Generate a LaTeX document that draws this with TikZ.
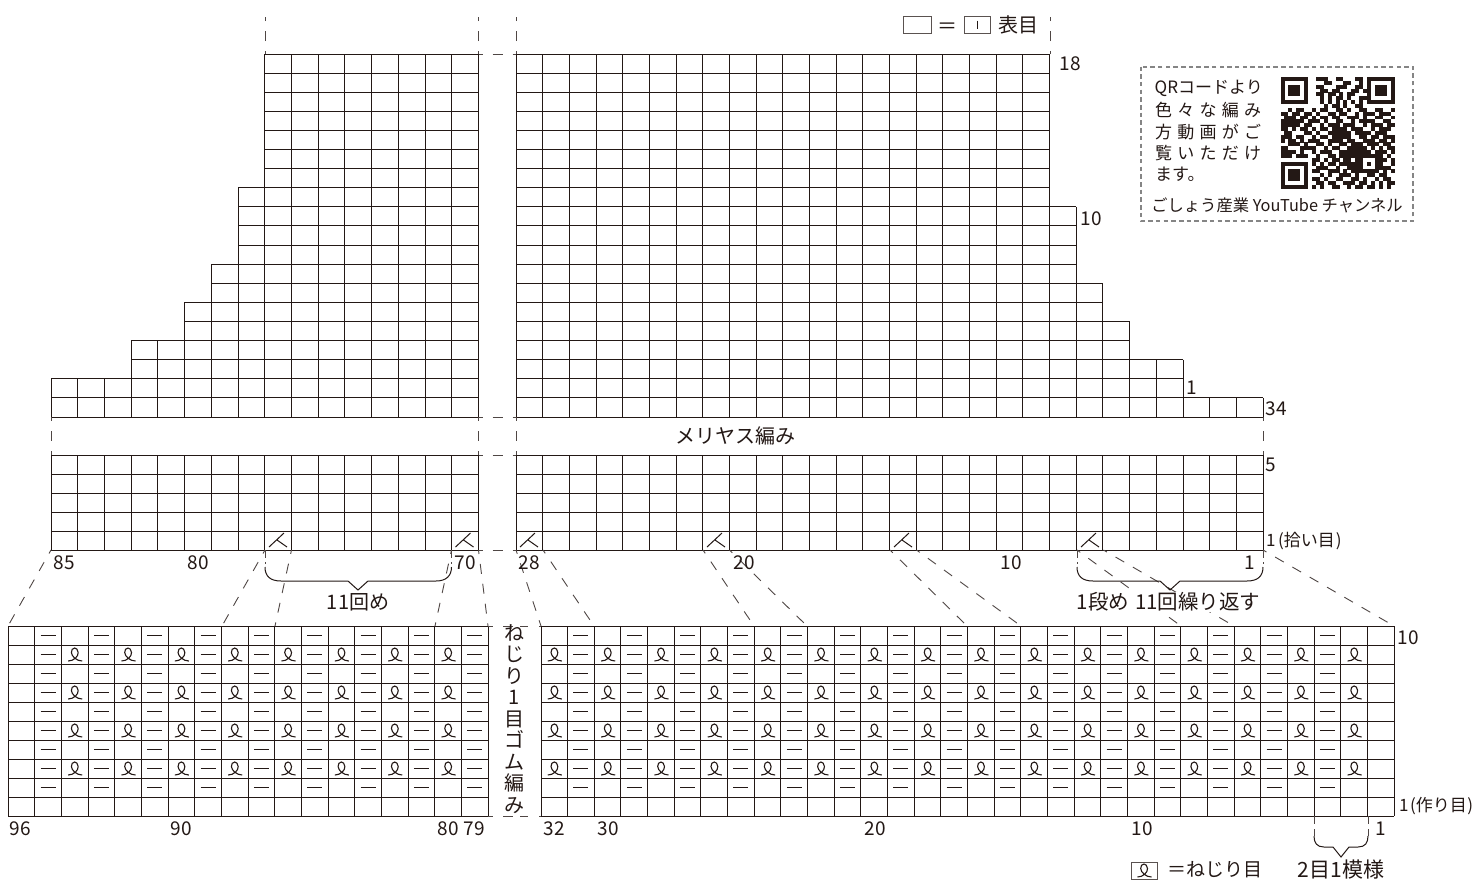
\documentclass[tikz,border=0pt]{standalone}
\usepackage{fontspec}
\setmainfont{Noto Sans CJK JP}
\definecolor{ink}{HTML}{231815}
\definecolor{boxgrey}{HTML}{858585}
\newcount\qrrow
\newcount\qrcol
\newcommand\qrline[1]{\qrcol=0 \qrscan#1\relax \advance\qrrow by 1 }
\def\qrscan#1{\ifx#1\relax\else\if#11\fill[ink] ({1280.5+3.93*\the\qrcol},{77+3.85*\the\qrrow}) rectangle +(4.03,3.95);\fi\advance\qrcol by 1 \expandafter\qrscan\fi}
% one row of grid cells: x0, dx, first col, last col, y top, y bottom
\newcommand\gridrow[6]{%
  \draw[gridline] ({#1+#2*#3},#5) -- ({#1+#2*#4},#5);
  \draw[gridline] ({#1+#2*#3},#6) -- ({#1+#2*#4},#6);
  \foreach \cc in {#3,...,#4}{\draw[gridline] ({#1+#2*\cc},#5) -- ({#1+#2*\cc},#6);}}
\newcommand\fs[1]{\fontsize{#1}{#1}\selectfont}
\tikzset{
  gridline/.style={line width=1pt,color=ink,line cap=square},
  conn/.style={line width=0.9pt,color=ink!80,dash pattern=on 10pt off 10pt,dash phase=6pt},
  brace/.style={line width=1pt,color=ink},
  dashmark/.style={line width=1pt,color=ink},
  lbl/.style={text=ink,inner sep=0pt,font=\fs{19}},
  big/.style={text=ink,inner sep=0pt,font=\fs{20}},
  small/.style={text=ink,inner sep=0pt,font=\fs{17}},
  twistsym/.pic={\draw[line width=1.1pt,color=ink] (-6.5,6.5) .. controls (-1,6.5) and (3.8,2) .. (3.5,-2) .. controls (3.3,-5) and (1.5,-6.5) .. (0,-6.5) .. controls (-2,-6.5) and (-3.5,-4.5) .. (-3.3,-2) .. controls (-3,2) and (2,6.5) .. (7.5,6.5);},
  decsym/.pic={\draw[line width=1pt,color=ink] (4,-3) -- (19,-17) (12,-10) -- (22,-3);}
}
\begin{document}
\begin{tikzpicture}[x=1pt,y=-1pt]
\useasboundingbox (0,0) rectangle (1475,879);
\fill[white] (0,0) rectangle (1475,879);
% upper block, right part: row index/ last col
\foreach \k/\nn in {0/28,1/25,2/25,3/23,4/23,5/22,6/22,7/21,8/21,9/21,10/21,11/20,12/20,13/20,14/20,15/20,16/20,17/20,18/20}{
  \pgfmathsetmacro\yb{417-19.105*\k}\pgfmathsetmacro\yt{417-19.105*(\k+1)}
  \gridrow{516}{26.68}{0}{\nn}{\yt}{\yb}}
% upper block, left part: row index/ first col
\foreach \k/\nn in {0/0,1/0,2/3,3/3,4/5,5/5,6/6,7/6,8/7,9/7,10/7,11/7,12/8,13/8,14/8,15/8,16/8,17/8,18/8}{
  \pgfmathsetmacro\yb{417-19.105*\k}\pgfmathsetmacro\yt{417-19.105*(\k+1)}
  \gridrow{51}{26.72}{\nn}{16}{\yt}{\yb}}
% lower block
\foreach \k in {0,...,4}{
  \pgfmathsetmacro\yb{550-19*\k}\pgfmathsetmacro\yt{550-19*(\k+1)}
  \gridrow{516}{26.68}{0}{28}{\yt}{\yb}
  \gridrow{51}{26.72}{0}{16}{\yt}{\yb}}
% rib block
\foreach \k in {0,...,9}{
  \pgfmathsetmacro\yb{816-19*\k}\pgfmathsetmacro\yt{816-19*(\k+1)}
  \gridrow{8}{26.67}{0}{18}{\yt}{\yb}
  \gridrow{541}{26.66}{0}{32}{\yt}{\yb}}
% rib symbols
\foreach \r in {2,...,10}{
  \pgfmathsetmacro\yc{816-19*(\r-0.5)}
  \foreach \n in {1,3,...,17}{\draw[dashmark] ({8+26.67*(\n+0.5)-7.5},\yc) -- +(15,0);}
  \foreach \n in {1,3,...,29}{\draw[dashmark] ({541+26.66*(\n+0.5)-7.5},\yc) -- +(15,0);}}
\foreach \r in {3,5,7,9}{
  \pgfmathsetmacro\yc{816-19*(\r-0.5)}
  \foreach \n in {2,4,...,16}{\pic at ({8+26.67*(\n+0.5)},\yc) {twistsym};}
  \foreach \n in {0,2,...,30}{\pic at ({541+26.66*(\n+0.5)},\yc) {twistsym};}}
% decrease marks
\foreach \xx in {265,451.5,516,703,890,1077}{\pic at (\xx,550) {decsym};}
% dashed continuation lines
\foreach \xx/\nm in {265/a,478.5/b,516/c,1050/d}{
  \coordinate (top\nm) at (\xx,17); \coordinate (grid\nm) at (\xx,54);
  \draw[conn,dash phase=7pt] (grid\nm) -- (top\nm);}
\foreach \xx/\nm in {51/a,478.5/b,516/c,1263/d}{
  \coordinate (mida\nm) at (\xx,417); \coordinate (midb\nm) at (\xx,455);
  \draw[conn] (mida\nm) -- (midb\nm);}
\foreach \yy/\nm in {54/a,417/b,455/c,550/d}{
  \coordinate (gapl\nm) at (478.5,\yy); \coordinate (gapr\nm) at (516,\yy);
  \draw[conn] (gapl\nm) -- (gapr\nm);}
\foreach \yy/\nm in {626/a,816/b}{
  \coordinate (ribl\nm) at (488,\yy); \coordinate (ribr\nm) at (541,\yy);
  \draw[line width=0.9pt,color=ink!80,dash pattern=on 5pt off 10pt on 10pt off 7pt on 8pt off 11pt on 3pt] (ribl\nm) -- (ribr\nm);}
% connectors to rib chart
\foreach \a/\b [count=\i] in {51/8,265/222,291.5/275,451.5/435,478.5/488,516/541,543/594,703/754,729.5/807,890/967,916.5/1021,1077/1181,1103.5/1234,1263/1394}{
  \coordinate (up\i) at (\a,550); \coordinate (dn\i) at (\b,626);
  \draw[conn] (up\i) -- (dn\i);}
% braces
\coordinate (bl1) at (265,550); \coordinate (br1) at (451.5,550);
\draw[conn,dash pattern=on 2pt off 4pt on 8pt off 4pt] (bl1) -- (265,567);
\draw[conn,dash pattern=on 2pt off 4pt on 8pt off 4pt] (br1) -- (451.5,567);
\draw[brace] (265,567) .. controls (265,576) and (270,581) .. (281,581) -- (348,581) -- (358,590) -- (368,581) -- (436,581) .. controls (446,581) and (451.5,576) .. (451.5,567);
\coordinate (bl2) at (1077,550); \coordinate (br2) at (1263,550);
\draw[conn,dash pattern=on 2pt off 4pt on 8pt off 4pt] (bl2) -- (1077,567);
\draw[conn,dash pattern=on 2pt off 4pt on 8pt off 4pt] (br2) -- (1263,567);
\draw[brace] (1077,567) .. controls (1077,576) and (1082,581) .. (1093,581) -- (1160,581) -- (1170,590) -- (1180,581) -- (1247,581) .. controls (1258,581) and (1263,576) .. (1263,567);
\coordinate (bl3) at (1314,816); \coordinate (br3) at (1368,816);
\draw[conn,dash pattern=on 2pt off 4pt on 8pt off 5pt on 8pt] (bl3) -- (1314,836);
\draw[conn,dash pattern=on 2pt off 4pt on 8pt off 5pt on 8pt] (br3) -- (1368,836);
\draw[brace] (1314,836) .. controls (1314,843) and (1317,847) .. (1324,847) -- (1333,847) -- (1341,857) -- (1349,847) -- (1358,847) .. controls (1365,847) and (1368,843) .. (1368,836);
% legend
\node[draw=ink!75,line width=0.9pt,minimum width=28pt,minimum height=17pt,inner sep=0pt] (knit) at (917,24.5) {};
\node[big] (eq1) at (947,28) {＝};
\node[draw=ink!75,line width=0.9pt,minimum width=26pt,minimum height=17pt,inner sep=0pt] (knitsym) at (977,24.5) {};
\draw[line width=0.9pt,color=ink] (knitsym.center) +(0,-4) -- +(0,4);
\node[big] (omote) at (1018,24.5) {表目};
\node[draw=ink!75,line width=0.9pt,minimum width=26pt,minimum height=17pt,inner sep=0pt] (twistbox) at (1144,870.5) {};
\pic at (1144,870.5) {twistsym};
\node[big,font=\fs{19}] (nejiri) at (1215,870) {＝ねじり目};
\node[big,font=\fs{21}] (moyo) at (1341,870) {2目1模様};
% QR box
\draw[color=boxgrey,line width=2pt,dash pattern=on 4.5pt off 3.2pt] (1141,66.5) rectangle (1413,221);
\qrrow=0
\qrline{11111110011100110001101111111}
\qrline{10000010000110001100101000001}
\qrline{10111010011000111001101011101}
\qrline{10111010001101100011011011101}
\qrline{10111010011011010110001011101}
\qrline{10000010001010110100111000001}
\qrline{11111110001010101010101111111}
\qrline{00000000000101101001100000000}
\qrline{00101100101100110100110011001}
\qrline{11011011010011011001011101110}
\qrline{01110110101101100111010011001}
\qrline{11111101110100110010111100110}
\qrline{11111011001011101110010111011}
\qrline{11010110101101111011100101110}
\qrline{01100011010011111101111011100}
\qrline{11101100101101111100110110111}
\qrline{10110101110011110110011101101}
\qrline{00111010011010011011101110110}
\qrline{11000111100101100111110101011}
\qrline{11110100101110011111111011101}
\qrline{11101110010011011111111111010}
\qrline{00000000110101101101100011101}
\qrline{11111110101011011111101011001}
\qrline{10000010011100100111100011110}
\qrline{10111010110011101011111110101}
\qrline{10111010001010011101001101100}
\qrline{10111010110100110011010010110}
\qrline{10000010011011001110110101011}
\qrline{11111110101001100101101101010}
\node[small,anchor=west] (qr1) at (1154.5,88) {QRコードより};
\node[small,anchor=west] (qr2) at (1155,110) {\makebox[106pt][s]{色\hfil 々\hfil な\hfil 編\hfil み}};
\node[small,anchor=west] (qr3) at (1155,132) {\makebox[106pt][s]{方\hfil 動\hfil 画\hfil が\hfil ご}};
\node[small,anchor=west] (qr4) at (1155,153) {\makebox[106pt][s]{覧\hfil い\hfil た\hfil だ\hfil け}};
\node[small,anchor=west] (qr5) at (1155,174) {ます。};
\node[small,font=\fs{16.3}] (qr6) at (1277,205) {ごしょう産業 YouTube チャンネル};
% row labels
\node[lbl] (r18) at (1070,64) {18};
\node[lbl] (r10) at (1091,219) {10};
\node[lbl] (r1) at (1192,388) {1};
\node[lbl] (r34) at (1276,409) {34};
\node[lbl] (r5) at (1271,465) {5};
\node[small,anchor=west] (rp) at (1266,541) {1\kern2.5pt(拾い目\kern1pt)};
\node[big] (meri) at (735,436) {メリヤス編み};
% stitch labels, upper chart
\foreach \xx/\tt in {64/85,198/80,465/70,529/28,744/20,1011/10,1250/1}{
  \node[lbl] (us\tt) at (\xx,563) {\tt};}
\node[big] (kai) at (358,602) {11回め};
\node[big,fill=white,inner sep=1pt,font=\fs{20.5}] (rep) at (1168.5,602) {1段め\hspace{1.5pt} 11回繰り返す};
% stitch labels, rib chart
\foreach \xx/\tt in {20/96,181/90,448/80,474/79,554/32,608/30,875/20,1142/10,1381/1}{
  \node[lbl] (ls\tt) at (\xx,829) {\tt};}
\node[lbl] (rr10) at (1408,638) {10};
\node[small,anchor=west] (rr1) at (1399,806) {1\kern1.5pt(作り目\kern0.5pt)};
\node[big,align=center,anchor=north,font=\fontsize{20}{21.5}\selectfont] (ribname) at (514,624) {ね\\じ\\り\\1\\目\\ゴ\\ム\\編\\み};
\end{tikzpicture}
\end{document}
